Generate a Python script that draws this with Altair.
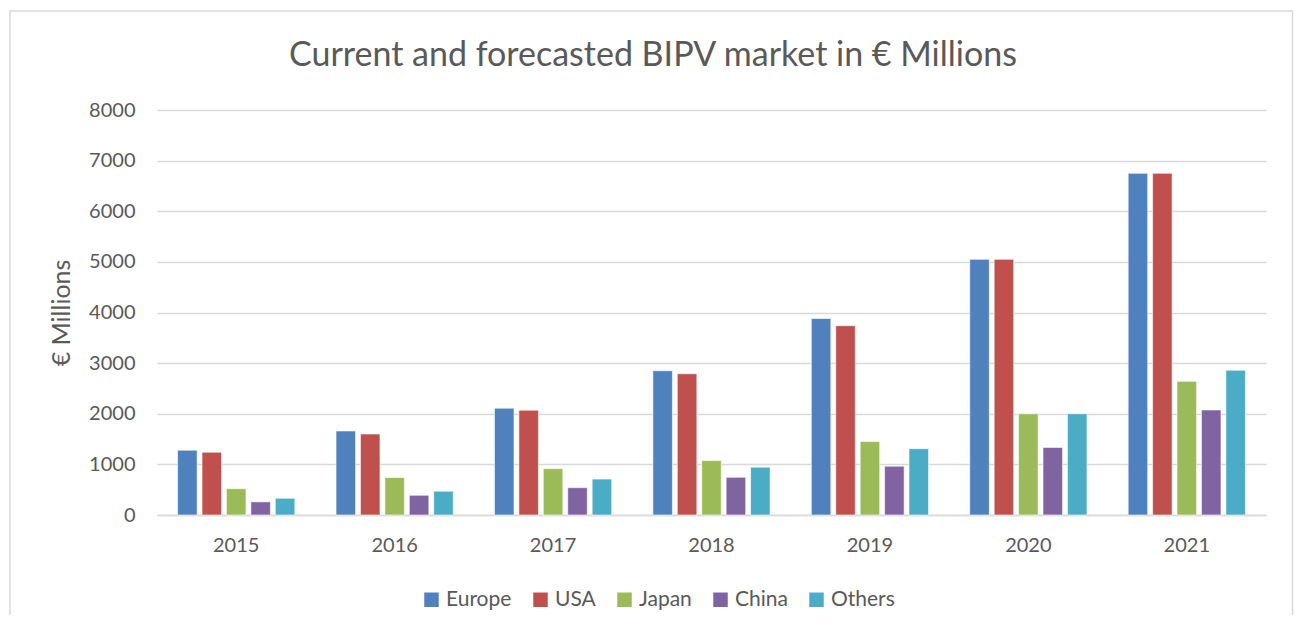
import altair as alt
import pandas as pd

years = ["2015", "2016", "2017", "2018", "2019", "2020", "2021"]
regions = ["Europe", "USA", "Japan", "China", "Others"]
europe = [1280, 1660, 2110, 2850, 3880, 5050, 6750]
usa = [1240, 1600, 2070, 2790, 3740, 5050, 6750]
japan = [520, 740, 915, 1075, 1450, 2000, 2640]
china = [260, 390, 540, 745, 965, 1335, 2075]
others = [330, 470, 710, 945, 1310, 2000, 2860]
colors = ["#4F81BD", "#C0504D", "#9BBB59", "#8064A2", "#4BACC6"]
title_text = "Current and forecasted BIPV market in € Millions"

series = {"Europe": europe, "USA": usa, "Japan": japan, "China": china, "Others": others}
rows = []
for r in regions:
    for y, v in zip(years, series[r]):
        rows.append({"Year": y, "Region": r, "Value": v})
df = pd.DataFrame(rows)

FONT = "Lato"
GREY = "#595959"

border = alt.Chart(pd.DataFrame({"a": [0]})).mark_rect(
    fill=None, stroke="#d9d9d9", strokeWidth=1.5
).encode(
    x=alt.value(-147), x2=alt.value(1135.5), y=alt.value(-99), y2=alt.value(540)
)

title = alt.Chart(pd.DataFrame({"t": [title_text]})).mark_text(
    font=FONT, fontSize=34, color=GREY, align="center", baseline="middle"
).encode(text="t:N", x=alt.value(496), y=alt.value(-54))

bars = alt.Chart(df).mark_bar(stroke="white", strokeWidth=0.6).encode(
    x=alt.X("Year:N", sort=years,
            scale=alt.Scale(paddingInner=0.26, paddingOuter=0.13),
            axis=alt.Axis(title=None, labelAngle=0, labelFontSize=20, labelColor=GREY,
                          labelFont=FONT, labelPadding=20, ticks=False,
                          domainColor="#d9d9d9", domainWidth=1.5)),
    xOffset=alt.XOffset("Region:N", sort=regions,
                        scale=alt.Scale(paddingInner=0.2, paddingOuter=0)),
    y=alt.Y("Value:Q", scale=alt.Scale(domain=[0, 8000]),
            axis=alt.Axis(title="€ Millions", values=list(range(0, 8001, 1000)),
                          format="d",
                          labelFontSize=20, labelColor=GREY, labelFont=FONT,
                          labelPadding=22, ticks=False, domain=False,
                          titleFontSize=25, titleColor=GREY, titleFont=FONT,
                          titleFontWeight="normal", titlePadding=14,
                          gridColor="#d9d9d9", gridWidth=1.5)),
    color=alt.Color("Region:N", sort=regions,
                    scale=alt.Scale(domain=regions, range=colors),
                    legend=alt.Legend(title=None, orient="none", direction="horizontal",
                                      legendX=264, legendY=479,
                                      symbolType="square", symbolSize=210,
                                      symbolStrokeWidth=0,
                                      labelFontSize=21, labelColor=GREY, labelFont=FONT,
                                      labelOffset=4, columnPadding=18)),
)

chart = alt.layer(border, title, bars).properties(
    width=1109, height=405,
    background="white",
    autosize=alt.AutoSizeParams(type="none"),
    padding={"left": 149, "top": 102, "right": 28, "bottom": 100},
).configure_view(strokeWidth=0)

chart.save("out.html", embed_options={"renderer": "svg", "actions": False})
